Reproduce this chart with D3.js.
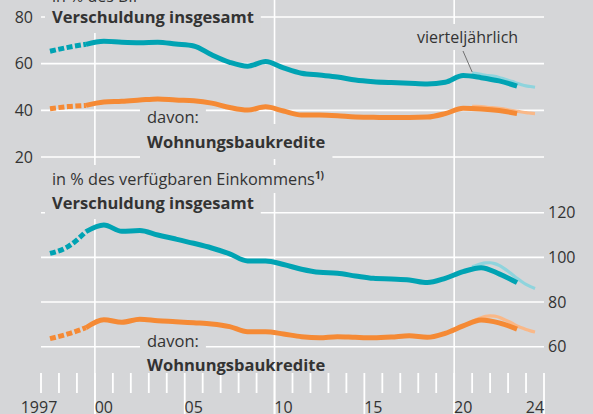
<!DOCTYPE html>
<html>
<head>
<meta charset="utf-8">
<script src="https://cdn.jsdelivr.net/npm/d3@7"></script>
<style>
  body { margin: 0; }
  svg { display: block; font-family: "Open Sans", sans-serif; }
</style>
</head>
<body>
<svg width="593" height="414"></svg>
<script>
// annual values (plotted at mid-year)
const years = d3.range(1997, 2024);
const debtGdp = [65.3, 67.0, 68.3, 69.6, 69.2, 69.0, 69.2, 68.4, 67.6, 63.8, 60.6, 58.9, 60.9, 58.2, 55.9, 55.1, 54.3, 53.0, 52.3, 51.9, 51.6, 51.3, 52.0, 54.9, 54.0, 52.6, 50.4];
const housingGdp = [40.7, 41.6, 42.1, 43.6, 43.9, 44.4, 44.9, 44.4, 44.1, 43.1, 41.2, 40.1, 41.5, 39.7, 38.0, 38.0, 37.7, 37.1, 37.0, 36.9, 36.9, 37.1, 38.6, 40.9, 40.6, 39.9, 38.6];
const debtIncome = [101.8, 104.8, 111.5, 114.5, 111.7, 112.0, 110.0, 108.2, 106.3, 104.2, 101.6, 98.4, 98.4, 96.8, 94.7, 93.3, 92.9, 91.7, 90.6, 90.3, 89.9, 88.7, 90.6, 93.6, 95.4, 92.6, 88.7];
const housingIncome = [63.6, 65.7, 68.5, 72.1, 70.9, 72.3, 71.6, 71.2, 70.7, 70.2, 69.0, 66.7, 66.7, 65.7, 64.5, 64.0, 64.5, 64.2, 64.0, 64.3, 64.9, 64.2, 66.0, 69.3, 72.0, 70.7, 67.9];

// quarterly values, 2020Q4 .. 2024Q2 (plotted at quarter end)
const quarters = ["2020Q4", "2021Q1", "2021Q2", "2021Q3", "2021Q4", "2022Q1", "2022Q2", "2022Q3", "2022Q4", "2023Q1", "2023Q2", "2023Q3", "2023Q4", "2024Q1", "2024Q2"];
const debtGdpQ = [56.0, 55.8, 55.4, 55.0, 54.8, 54.6, 54.1, 53.5, 52.9, 52.3, 51.6, 51.0, 50.5, 50.2, 49.9];
const housingGdpQ = [41.7, 41.7, 41.6, 41.4, 41.2, 41.1, 40.9, 40.6, 40.2, 39.9, 39.6, 39.3, 39.0, 38.8, 38.6];
const debtIncomeQ = [95.8, 96.5, 97.1, 97.5, 97.6, 97.2, 96.4, 95.2, 93.8, 92.2, 90.6, 89.2, 87.9, 86.9, 86.1];
const housingIncomeQ = [71.2, 72.2, 73.0, 73.6, 73.8, 73.7, 73.2, 72.3, 71.4, 70.4, 69.3, 68.5, 67.7, 67.1, 66.6];

const topTicks = [20, 40, 60, 80];
const bottomTicks = [60, 80, 100, 120];
const yearLabels = [[1997, "1997"], [2000, "00"], [2005, "05"], [2010, "10"], [2015, "15"], [2020, "20"], [2024, "24"]];

const bg = "#d5d6d8";
const teal = "#00a3b3", tealLight = "#8fd4dd";
const orange = "#f58a35", orangeLight = "#f9b888";
const textColor = "#333";

const svg = d3.select("svg");
svg.append("rect").attr("width", 593).attr("height", 414).attr("fill", bg);

const x = d3.scaleLinear().domain([1997, 2025]).range([41, 544]);
const yTop = d3.scaleLinear().domain([20, 80]).range([157, 17]);
const yBot = d3.scaleLinear().domain([60, 120]).range([346.7, 212.7]);

const gGrid = svg.append("g");
const gKnock = svg.append("g");
const gTicks = svg.append("g");
const gLines = svg.append("g");
const gText = svg.append("g").attr("fill", textColor);

// horizontal gridlines
gGrid.selectAll(".ht").data(topTicks).join("line")
  .attr("x1", x(1997)).attr("x2", x(2025))
  .attr("y1", d => yTop(d)).attr("y2", d => yTop(d))
  .attr("stroke", "#fff").attr("stroke-width", 1.6);
gGrid.selectAll(".hb").data(bottomTicks).join("line")
  .attr("x1", x(1997)).attr("x2", x(2025))
  .attr("y1", d => yBot(d)).attr("y2", d => yBot(d))
  .attr("stroke", "#fff").attr("stroke-width", 1.6);

// vertical gridlines
gGrid.selectAll(".v").data([2000, 2010, 2020]).join("line")
  .attr("x1", d => x(d)).attr("x2", d => x(d))
  .attr("y1", 0).attr("y2", 414)
  .attr("stroke", "#fff").attr("stroke-width", 1.6);

// year ticks
gTicks.selectAll("line").data(d3.range(1997, 2026)).join("line")
  .attr("x1", d => x(d)).attr("x2", d => x(d))
  .attr("y1", 373).attr("y2", d => d % 5 === 0 ? 414 : 393)
  .attr("stroke", "#fff").attr("stroke-width", 1.8);

// axis labels
gText.selectAll(".yl").data(topTicks).join("text")
  .attr("x", 33).attr("y", d => yTop(d)).attr("dy", "0.36em")
  .attr("text-anchor", "end").attr("font-size", 16).text(d => d);
gText.selectAll(".yr").data(bottomTicks).join("text")
  .attr("x", 548).attr("y", d => yBot(d)).attr("dy", "0.36em")
  .attr("font-size", 16).text(d => d);
gText.selectAll(".xl").data(yearLabels).join("text")
  .attr("x", d => d[0] === 1997 ? 39 : x(d[0] + 0.5)).attr("y", 412.5)
  .attr("text-anchor", "middle").attr("font-size", 16).text(d => d[1]);

// lines
function drawSeries(vals, qvals, yScale, col, colLight) {
  const pts = years.map((yr, i) => [x(yr + 0.5), yScale(vals[i])]);
  const qpts = quarters.map((q, i) => [x(+q.slice(0, 4) + (+q.slice(5)) / 4), yScale(qvals[i])]);
  const line = d3.line().curve(d3.curveMonotoneX);
  gLines.append("path").attr("d", line(qpts))
    .attr("fill", "none").attr("stroke", colLight).attr("stroke-width", 3.2)
    .attr("stroke-linejoin", "round");
  gLines.append("path").attr("d", line(pts.slice(0, 3)))
    .attr("fill", "none").attr("stroke", col).attr("stroke-width", 5)
    .attr("stroke-dasharray", "6,2.5");
  gLines.append("path").attr("d", line(pts.slice(2)))
    .attr("fill", "none").attr("stroke", col).attr("stroke-width", 5)
    .attr("stroke-linejoin", "round");
}
drawSeries(housingGdp, housingGdpQ, yTop, orange, orangeLight);
drawSeries(debtGdp, debtGdpQ, yTop, teal, tealLight);
drawSeries(housingIncome, housingIncomeQ, yBot, orange, orangeLight);
drawSeries(debtIncome, debtIncomeQ, yBot, teal, tealLight);

// annotation labels with knockout boxes
function label(xp, yp, txt, weight, size) {
  const t = gText.append("text").attr("x", xp).attr("y", yp)
    .attr("font-size", size).attr("font-weight", weight).text(txt);
  return t;
}
function knock(t, px, py) {
  const b = t.node().getBBox();
  gKnock.append("rect")
    .attr("x", b.x - px).attr("y", b.y - py)
    .attr("width", b.width + 2 * px).attr("height", b.height + 2 * py)
    .attr("fill", bg);
}

knock(label(52, 1.5, "in % des BIP", 400, 16), 7, 4);
knock(label(52, 23, "Verschuldung insgesamt", 700, 16.5), 7, 5);
knock(label(147, 123, "davon:", 400, 16.5), 7, 5);
knock(label(147, 148, "Wohnungsbaukredite", 700, 16.5), 7, 6);

const sub = label(52, 185, "in % des verfügbaren Einkommens", 400, 16.3);
sub.append("tspan").attr("dy", -6).attr("font-size", 10).attr("font-weight", 700).text("1)");
knock(sub, 7, 3);
knock(label(52, 209, "Verschuldung insgesamt", 700, 16.5), 7, 5);
knock(label(147, 347, "davon:", 400, 16.5), 7, 5);
label(147, 371, "Wohnungsbaukredite", 700, 16.5);

knock(label(417, 43, "vierteljährlich", 400, 16), 4, 2);
gText.append("line")
  .attr("x1", 463).attr("y1", 51).attr("x2", x(2021)).attr("y2", yTop(debtGdpQ[0]) - 1)
  .attr("stroke", "#555").attr("stroke-width", 0.8);
</script>
</body>
</html>
